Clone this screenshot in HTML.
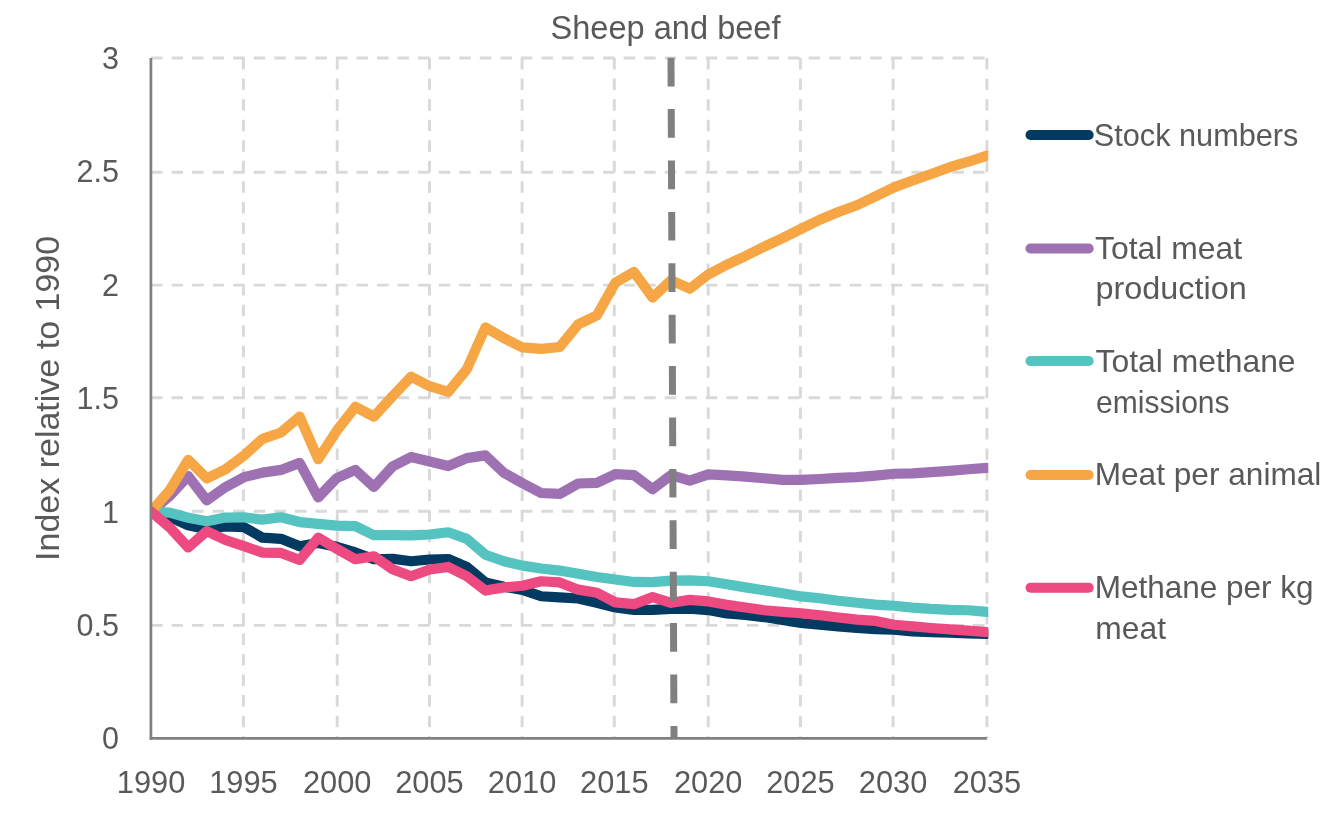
<!DOCTYPE html>
<html><head><meta charset="utf-8"><title>Sheep and beef</title>
<style>html,body{margin:0;padding:0;background:#fff;}body{width:1339px;height:817px;overflow:hidden;}svg{display:block;will-change:transform;}text{font-family:"Liberation Sans",sans-serif;fill:#595959;}</style>
</head><body>
<svg width="1339" height="817" viewBox="0 0 1339 817">
<rect width="1339" height="817" fill="#fff"/>
<defs><clipPath id="pa"><rect x="151" y="40" width="837.3" height="710"/></clipPath></defs>
<g stroke="#d9d9d9" stroke-width="2.9" stroke-dasharray="11.5 9.05" fill="none"><line x1="151" y1="625.35" x2="988" y2="625.35" stroke-dashoffset="0"/><line x1="151" y1="511.25" x2="988" y2="511.25" stroke-dashoffset="0"/><line x1="151" y1="397.70" x2="988" y2="397.70" stroke-dashoffset="0"/><line x1="151" y1="285.10" x2="988" y2="285.10" stroke-dashoffset="0"/><line x1="151" y1="172.20" x2="988" y2="172.20" stroke-dashoffset="0"/><line x1="151" y1="58.05" x2="988" y2="58.05" stroke-dashoffset="0"/><line x1="243.40" y1="58.05" x2="243.40" y2="738.4"/><line x1="337.20" y1="58.05" x2="337.20" y2="738.4"/><line x1="429.50" y1="58.05" x2="429.50" y2="738.4"/><line x1="522.10" y1="58.05" x2="522.10" y2="738.4"/><line x1="614.30" y1="58.05" x2="614.30" y2="738.4"/><line x1="708.20" y1="58.05" x2="708.20" y2="738.4"/><line x1="800.40" y1="58.05" x2="800.40" y2="738.4"/><line x1="893.10" y1="58.05" x2="893.10" y2="738.4"/><line x1="986.90" y1="58.05" x2="986.90" y2="738.4"/></g>
<g clip-path="url(#pa)" fill="none" stroke-width="10.2" stroke-linejoin="round" stroke-linecap="round"><path d="M151.05,511.63 L169.62,516.85 L188.20,525.24 L206.77,529.32 L225.35,526.37 L243.92,527.05 L262.50,537.71 L281.07,538.84 L299.65,546.33 L318.22,542.92 L336.79,546.78 L355.37,552.45 L373.94,559.25 L392.52,558.80 L411.09,561.29 L429.67,559.48 L448.24,559.02 L466.81,566.96 L485.39,582.38 L503.96,586.69 L522.54,589.87 L541.11,596.22 L559.69,597.35 L578.26,598.48 L596.84,602.79 L615.41,607.55 L633.98,609.82 L652.56,609.82 L671.13,608.91 L689.71,608.69 L708.28,610.05 L726.86,613.45 L745.43,615.04 L764.01,617.08 L782.58,620.03 L801.15,622.97 L819.73,624.79 L838.30,626.38 L856.88,627.96 L875.45,629.10 L894.03,629.55 L912.60,631.36 L931.17,632.04 L949.75,632.73 L968.32,633.41 L986.90,633.86" stroke="#023a62"/><path d="M151.05,511.63 L169.62,495.98 L188.20,476.03 L206.77,500.29 L225.35,487.14 L243.92,477.16 L262.50,472.63 L281.07,469.90 L299.65,462.87 L318.22,497.34 L336.79,478.07 L355.37,469.90 L373.94,486.91 L392.52,466.50 L411.09,456.98 L429.67,461.51 L448.24,466.05 L466.81,458.11 L485.39,455.39 L503.96,472.85 L522.54,483.28 L541.11,493.03 L559.69,493.94 L578.26,483.51 L596.84,482.83 L615.41,474.21 L633.98,475.12 L652.56,489.18 L671.13,475.12 L689.71,480.56 L708.28,474.44 L726.86,475.35 L745.43,476.71 L764.01,478.29 L782.58,479.88 L801.15,479.88 L819.73,478.98 L838.30,477.84 L856.88,477.16 L875.45,475.57 L894.03,473.76 L912.60,473.31 L931.17,472.17 L949.75,470.81 L968.32,469.22 L986.90,467.86" stroke="#9e72b2"/><path d="M151.05,511.63 L169.62,512.54 L188.20,517.75 L206.77,521.15 L225.35,517.53 L243.92,517.30 L262.50,519.57 L281.07,517.30 L299.65,522.06 L318.22,523.88 L336.79,525.69 L355.37,526.14 L373.94,535.21 L392.52,535.21 L411.09,535.44 L429.67,534.53 L448.24,532.27 L466.81,538.84 L485.39,554.72 L503.96,561.29 L522.54,565.60 L541.11,568.55 L559.69,570.59 L578.26,573.76 L596.84,576.94 L615.41,579.43 L633.98,581.93 L652.56,582.16 L671.13,580.57 L689.71,580.34 L708.28,581.25 L726.86,584.20 L745.43,587.37 L764.01,590.32 L782.58,593.27 L801.15,596.44 L819.73,598.26 L838.30,600.75 L856.88,602.79 L875.45,604.61 L894.03,605.74 L912.60,607.55 L931.17,608.91 L949.75,609.82 L968.32,610.27 L986.90,611.86" stroke="#55c3c0"/><path d="M151.05,511.63 L169.62,490.31 L188.20,459.93 L206.77,478.29 L225.35,469.45 L243.92,455.62 L262.50,438.84 L281.07,432.49 L299.65,416.61 L318.22,459.25 L336.79,430.67 L355.37,406.86 L373.94,416.61 L392.52,396.20 L411.09,376.70 L429.67,386.23 L448.24,391.90 L466.81,369.22 L485.39,327.49 L503.96,338.15 L522.54,347.45 L541.11,348.81 L559.69,346.99 L578.26,324.32 L596.84,315.47 L615.41,282.59 L633.98,271.93 L652.56,297.56 L671.13,280.32 L689.71,288.72 L708.28,274.43 L726.86,264.68 L745.43,256.06 L764.01,246.76 L782.58,238.15 L801.15,228.85 L819.73,219.78 L838.30,212.07 L856.88,205.26 L875.45,196.42 L894.03,187.35 L912.60,180.55 L931.17,173.97 L949.75,167.17 L968.32,161.72 L986.90,155.60" stroke="#f6a644"/><path d="M151.05,511.63 L169.62,527.28 L188.20,547.46 L206.77,531.13 L225.35,539.98 L243.92,546.10 L262.50,552.68 L281.07,552.90 L299.65,559.93 L318.22,537.71 L336.79,548.82 L355.37,559.25 L373.94,556.30 L392.52,569.23 L411.09,576.26 L429.67,569.46 L448.24,566.96 L466.81,576.26 L485.39,590.55 L503.96,587.37 L522.54,585.78 L541.11,581.25 L559.69,582.38 L578.26,589.64 L596.84,592.81 L615.41,602.34 L633.98,604.15 L652.56,597.12 L671.13,602.79 L689.71,599.84 L708.28,601.43 L726.86,604.83 L745.43,607.55 L764.01,610.27 L782.58,611.86 L801.15,613.22 L819.73,615.26 L838.30,617.53 L856.88,619.57 L875.45,620.93 L894.03,624.79 L912.60,626.38 L931.17,627.96 L949.75,629.32 L968.32,630.68 L986.90,632.04" stroke="#ec4a80"/></g>
<g stroke="#808080" stroke-width="2.75" fill="none"><line x1="150.9" y1="57.9" x2="150.9" y2="739.7"/><line x1="149.8" y1="738.4" x2="986.9" y2="738.4"/></g>
<line x1="671" y1="57.7" x2="674" y2="737" stroke="#808080" stroke-width="7" stroke-dasharray="28.7 22.7"/>
<g font-size="30.5"><text x="119" y="749.30" text-anchor="end">0</text><text x="119" y="635.91" text-anchor="end">0.5</text><text x="119" y="522.53" text-anchor="end">1</text><text x="119" y="409.14" text-anchor="end">1.5</text><text x="119" y="295.76" text-anchor="end">2</text><text x="119" y="182.37" text-anchor="end">2.5</text><text x="119" y="68.99" text-anchor="end">3</text></g>
<g font-size="30.8"><text x="151.05" y="793" text-anchor="middle">1990</text><text x="243.40" y="793" text-anchor="middle">1995</text><text x="337.20" y="793" text-anchor="middle">2000</text><text x="429.50" y="793" text-anchor="middle">2005</text><text x="522.10" y="793" text-anchor="middle">2010</text><text x="614.30" y="793" text-anchor="middle">2015</text><text x="708.20" y="793" text-anchor="middle">2020</text><text x="800.40" y="793" text-anchor="middle">2025</text><text x="893.10" y="793" text-anchor="middle">2030</text><text x="986.90" y="793" text-anchor="middle">2035</text></g>
<text x="550.50" y="38.5" font-size="32.5" textLength="230.02" lengthAdjust="spacingAndGlyphs">Sheep and beef</text>
<text transform="translate(58.8,560.90) rotate(-90)" x="0" y="0" font-size="34" textLength="325.01" lengthAdjust="spacingAndGlyphs">Index relative to 1990</text>
<line x1="1030.5" y1="135.0" x2="1088.7" y2="135.0" stroke="#023a62" stroke-width="10" stroke-linecap="round"/><text x="1093.79" y="145.9" font-size="30.5" textLength="204.64" lengthAdjust="spacingAndGlyphs">Stock numbers</text><line x1="1030.5" y1="248.5" x2="1088.7" y2="248.5" stroke="#9e72b2" stroke-width="10" stroke-linecap="round"/><text x="1095.05" y="259.0" font-size="30.5" textLength="147.05" lengthAdjust="spacingAndGlyphs">Total meat</text><text x="1095.48" y="299.3" font-size="30.5" textLength="151.25" lengthAdjust="spacingAndGlyphs">production</text><line x1="1030.5" y1="361.0" x2="1088.7" y2="361.0" stroke="#55c3c0" stroke-width="10" stroke-linecap="round"/><text x="1095.56" y="372.2" font-size="30.5" textLength="200.01" lengthAdjust="spacingAndGlyphs">Total methane</text><text x="1096.12" y="412.9" font-size="30.5" textLength="133.47" lengthAdjust="spacingAndGlyphs">emissions</text><line x1="1030.5" y1="475.0" x2="1088.7" y2="475.0" stroke="#f6a644" stroke-width="10" stroke-linecap="round"/><text x="1094.69" y="485.0" font-size="30.5" textLength="226.66" lengthAdjust="spacingAndGlyphs">Meat per animal</text><line x1="1030.5" y1="587.7" x2="1088.7" y2="587.7" stroke="#ec4a80" stroke-width="10" stroke-linecap="round"/><text x="1094.70" y="598.1" font-size="30.5" textLength="218.90" lengthAdjust="spacingAndGlyphs">Methane per kg</text><text x="1095.32" y="639.0" font-size="30.5" textLength="70.69" lengthAdjust="spacingAndGlyphs">meat</text>
</svg></body></html>
